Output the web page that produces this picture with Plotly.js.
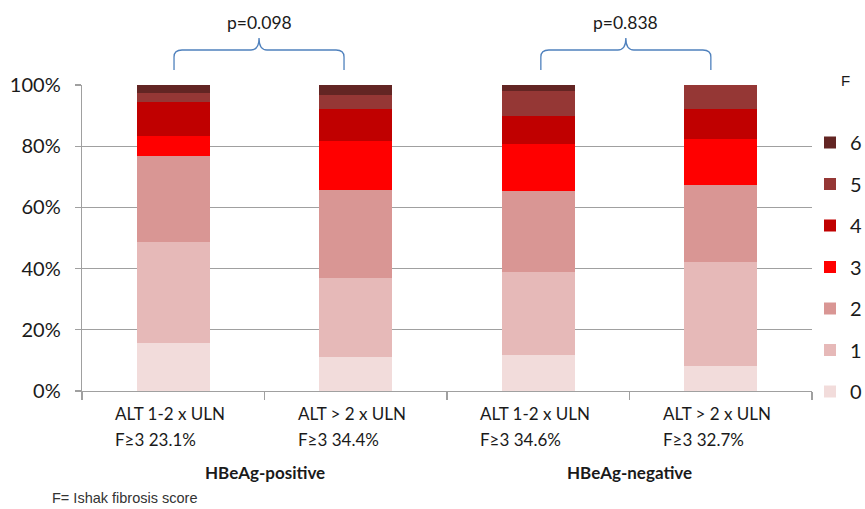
<!DOCTYPE html>
<html>
<head>
<meta charset="utf-8">
<script src="https://cdn.plot.ly/plotly-3.0.1.min.js"></script>
<style>html,body{margin:0;padding:0;background:#fff;}#chart{width:865px;height:509px;}</style>
</head>
<body>
<div id="chart"></div>
<script>
// ---- data ----
var categories = ["pos_ALT12", "pos_ALT2", "neg_ALT12", "neg_ALT2"];
var line1Labels = ["ALT 1-2 x ULN", "ALT > 2 x ULN", "ALT 1-2 x ULN", "ALT > 2 x ULN"];
var line2Labels = ["F\u22653 23.1%", "F\u22653 34.4%", "F\u22653 34.6%", "F\u22653 32.7%"];
var groupLabels = ["HBeAg-positive", "HBeAg-negative"];
var groupCenters = [0.5, 2.5];
var pLabels = ["p=0.098", "p=0.838"];
var scoreNames = ["0", "1", "2", "3", "4", "5", "6"];
var F0 = [15.6, 11.0, 11.8, 8.2];
var F1 = [33.2, 25.8, 27.0, 34.1];
var F2 = [28.1, 28.8, 26.6, 25.0];
var F3 = [6.3, 16.0, 15.4, 15.2];
var F4 = [11.2, 10.5, 9.1, 9.7];
var F5 = [3.1, 4.6, 8.2, 7.8];
var F6 = [2.5, 3.3, 1.9, 0.0];
var yTicks = [0, 20, 40, 60, 80, 100];

var series = [F0, F1, F2, F3, F4, F5, F6];
var colors = ["#F2DCDB", "#E6B9B8", "#D99694", "#FF0000", "#C00000", "#953735", "#632523"];

var traces = series.map(function (vals, i) {
  return {
    type: "bar",
    name: scoreNames[i],
    x: categories,
    y: vals,
    legendgroup: "g" + i,
    legendrank: 100 - i,
    marker: { color: colors[i], line: { width: 0 } },
    hoverinfo: "skip"
  };
});

var xRange = [-0.5, 3.5];
function px2paperY(p) { return (391 - p) / 306; }
function px2paperX(p) { return (p - 82) / 730; }
function idx2paperX(i) { return (i - xRange[0]) / (xRange[1] - xRange[0]); }

var ann = [];
var lblFont = { family: "Lato, 'Open Sans', sans-serif", size: 17, color: "#1a1a1a" };
categories.forEach(function (c, i) {
  ann.push({ xref: "x", yref: "paper", x: i, y: px2paperY(413), text: line1Labels[i],
    showarrow: false, xanchor: "left", yanchor: "middle", xshift: -60, font: lblFont });
  ann.push({ xref: "x", yref: "paper", x: i, y: px2paperY(440), text: line2Labels[i],
    showarrow: false, xanchor: "left", yanchor: "middle", xshift: -60, font: lblFont });
});
groupLabels.forEach(function (g, i) {
  ann.push({ xref: "x", yref: "paper", x: groupCenters[i], y: px2paperY(472), text: "<b>" + g + "</b>",
    showarrow: false, xanchor: "center", yanchor: "middle",
    font: { family: "Lato, 'Open Sans', sans-serif", size: 17, color: "#1a1a1a" } });
});
var pCenters = [0.47, 2.48];
pLabels.forEach(function (p, i) {
  ann.push({ xref: "paper", yref: "paper", x: idx2paperX(pCenters[i]), y: px2paperY(22), text: p,
    showarrow: false, xanchor: "center", yanchor: "middle",
    font: { family: "Lato, 'Open Sans', sans-serif", size: 17.5, color: "#1a1a1a" } });
});
ann.push({ xref: "paper", yref: "paper", x: px2paperX(50), y: px2paperY(498), text: "F= Ishak fibrosis score",
  showarrow: false, xanchor: "left", yanchor: "middle",
  font: { family: "'Liberation Sans', Arial, sans-serif", size: 14.5, color: "#333" } });
ann.push({ xref: "paper", yref: "paper", x: px2paperX(846), y: px2paperY(80), text: "F",
  showarrow: false, xanchor: "center", yanchor: "middle",
  font: { family: "'Liberation Sans', Arial, sans-serif", size: 15, color: "#1a1a1a" } });

// braces
function bracePath(cIdx) {
  var cx = idx2paperX(cIdx);
  var w = 85 / 730, rx = 8 / 730, ry = 7 / 306;
  var yEnd = px2paperY(70), yMid = px2paperY(50), yTip = px2paperY(38);
  return "M" + (cx - w) + "," + yEnd +
    " L" + (cx - w) + "," + (yMid - ry) +
    " Q" + (cx - w) + "," + yMid + " " + (cx - w + rx) + "," + yMid +
    " L" + (cx - rx) + "," + yMid +
    " Q" + cx + "," + yMid + " " + cx + "," + yTip +
    " Q" + cx + "," + yMid + " " + (cx + rx) + "," + yMid +
    " L" + (cx + w - rx) + "," + yMid +
    " Q" + (cx + w) + "," + yMid + " " + (cx + w) + "," + (yMid - ry) +
    " L" + (cx + w) + "," + yEnd;
}
var shapes = pCenters.map(function (c) {
  return { type: "path", xref: "paper", yref: "paper", path: bracePath(c),
    line: { color: "#4F81BD", width: 1.3 }, fillcolor: "rgba(0,0,0,0)" };
});

var layout = {
  width: 865, height: 509,
  margin: { l: 82, r: 53, t: 85, b: 118, autoexpand: false },
  paper_bgcolor: "#fff", plot_bgcolor: "#fff",
  barmode: "stack",
  bargap: 0.6,
  showlegend: true,
  legend: {
    x: px2paperX(810), xanchor: "left", y: px2paperY(123), yanchor: "top",
    traceorder: "grouped", tracegroupgap: 12.5,
    font: { family: "Lato, 'Open Sans', sans-serif", size: 20, color: "#1a1a1a" },
    bgcolor: "rgba(0,0,0,0)"
  },
  xaxis: {
    type: "category", range: xRange, showticklabels: false,
    showline: true, linecolor: "#a0a0a0", linewidth: 1.3,
    ticks: "outside", tickson: "boundaries", ticklen: 8, tickcolor: "#a0a0a0", tickwidth: 1.3,
    showgrid: false, zeroline: false, fixedrange: true
  },
  yaxis: {
    range: [0, 100], tickvals: yTicks, ticktext: yTicks.map(function (v) { return v + "%"; }),
    showline: true, linecolor: "#a0a0a0", linewidth: 1.3,
    ticks: "outside", ticklen: 6, tickcolor: "#a0a0a0", tickwidth: 1.3,
    ticklabelstandoff: 10,
    showgrid: true, gridcolor: "#a0a0a0", gridwidth: 1.3, zeroline: false,
    tickfont: { family: "Lato, 'Open Sans', sans-serif", size: 20, color: "#1a1a1a" },
    fixedrange: true
  },
  annotations: ann,
  shapes: shapes
};

Plotly.newPlot("chart", traces, layout, { displayModeBar: false, staticPlot: true });
</script>
</body>
</html>
